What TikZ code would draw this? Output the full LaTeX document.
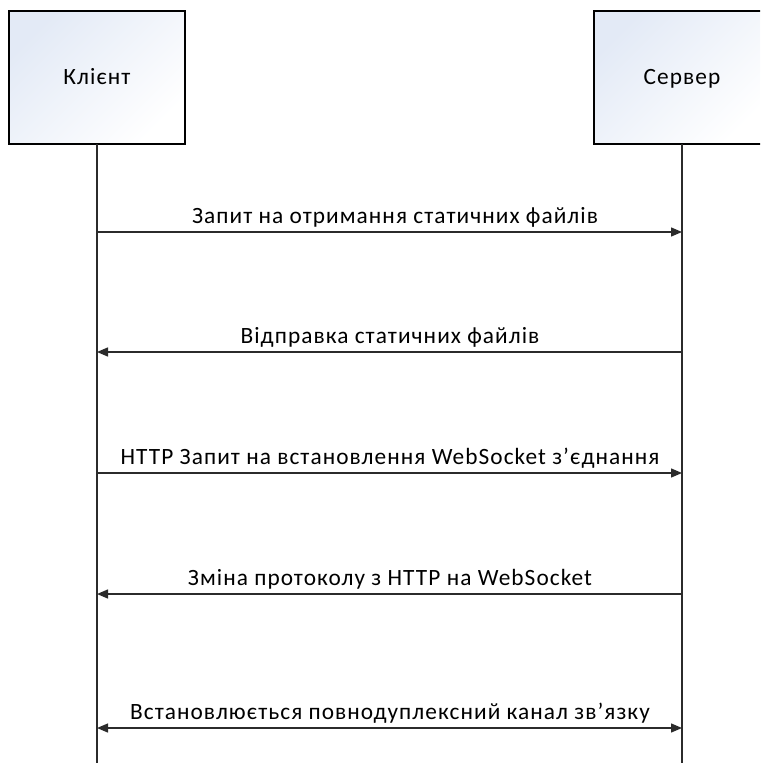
\documentclass[tikz,border=0pt]{standalone}
\usepackage{fontspec}
\setmainfont{Carlito}[LetterSpace=4.5]
\usetikzlibrary{arrows.meta}
\definecolor{linegray}{HTML}{2B2B2B}
\definecolor{boxblue}{HTML}{E3EAF6}
\tikzset{
  x=0.75pt, y=-0.75pt,
  actor/.style={draw=black, line width=0.8pt, shading=axis, top color=boxblue, bottom color=white, shading angle=45},
  actorlabel/.style={font=\fontsize{17.5}{21}\selectfont, inner sep=0pt, anchor=base},
  lifeline/.style={draw=linegray, line width=1pt},
  msg/.style={draw=linegray, line width=1pt, -{Triangle[length=8.25pt,width=6.75pt]}},
  bimsg/.style={draw=linegray, line width=1pt, {Triangle[length=8.25pt,width=6.75pt]}-{Triangle[length=8.25pt,width=6.75pt]}},
  msglabel/.style={font=\fontsize{17.5}{21}\selectfont, inner sep=0pt, anchor=base},
}
\begin{document}
\begin{tikzpicture}
\useasboundingbox (0,0) rectangle (760,763);
\begin{scope}
\clip (0,0) rectangle (760,763);
% actor boxes
\shade[actor] (9,11) rectangle (185,144);
\node[actorlabel] (client) at (97,85) {Клієнт};
\shade[actor] (594,11) rectangle (770,144);
\node[actorlabel] (server) at (682,85) {Сервер};
% lifeline anchors
\coordinate (cTop) at (97,144);
\coordinate (cBot) at (97,763);
\coordinate (sTop) at (682,144);
\coordinate (sBot) at (682,763);
\draw[lifeline] (cTop) -- (cBot);
\draw[lifeline] (sTop) -- (sBot);
% message points
\foreach \n/\y in {1/232,2/352,3/473,4/594,5/728} {
  \coordinate (c\n) at (97,\y);
  \coordinate (s\n) at (682,\y);
}
\draw[msg] (c1) -- (s1);
\draw[msg] (s2) -- (c2);
\draw[msg] (c3) -- (s3);
\draw[msg] (s4) -- (c4);
\draw[bimsg] (c5) -- (s5);
\node[msglabel] (l1) at (395,223) {Запит на отримання статичних файлів};
\node[msglabel] (l2) at (390,343) {Відправка статичних файлів};
\node[msglabel] (l3) at (390,464) {HTTP Запит на встановлення WebSocket з’єднання};
\node[msglabel] (l4) at (390,585) {Зміна протоколу з HTTP на WebSocket};
\node[msglabel] (l5) at (390,719) {Встановлюється повнодуплексний канал зв’язку};
\end{scope}
\end{tikzpicture}
\end{document}
